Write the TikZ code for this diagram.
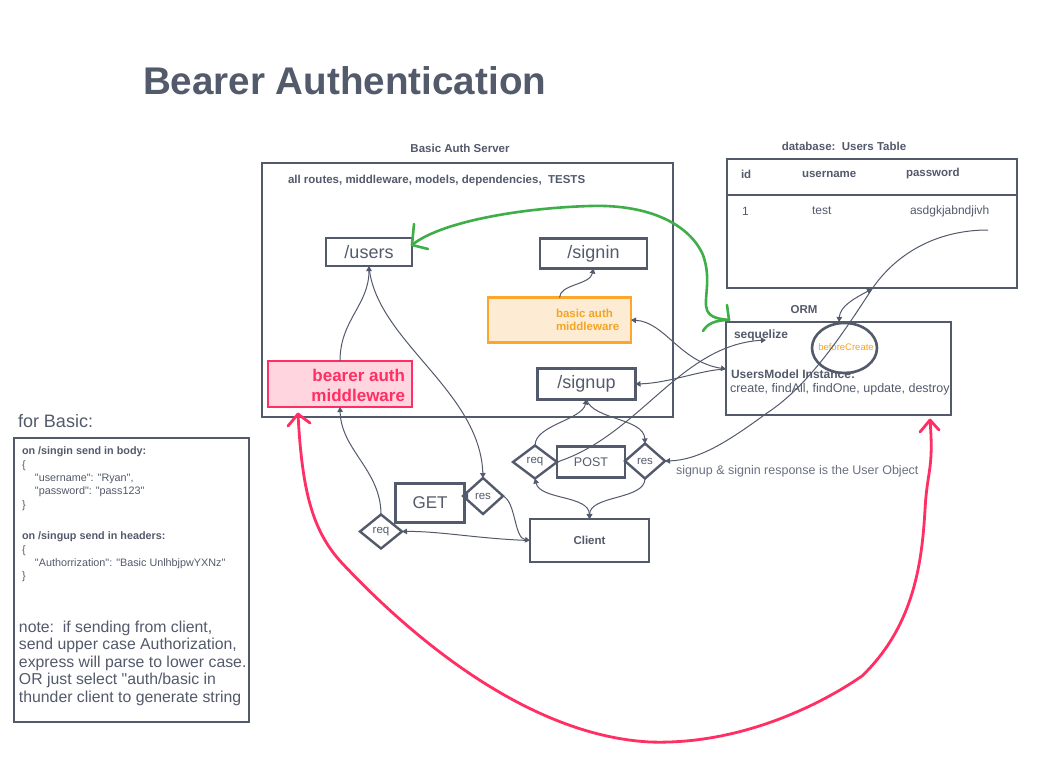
\documentclass[tikz,border=0pt]{standalone}
\usepackage{fontspec}
\setmainfont{Liberation Sans}
\usetikzlibrary{arrows.meta,shapes.geometric}
\definecolor{ink}{HTML}{535A6B}
\definecolor{lightink}{HTML}{6B7182}
\definecolor{orng}{HTML}{FCA62B}
\definecolor{orngfill}{HTML}{FDEBD3}
\definecolor{orngtext}{HTML}{F5A524}
\definecolor{rd}{HTML}{FF2E63}
\definecolor{rdfill}{HTML}{FFD5DF}
\definecolor{grn}{HTML}{3DAE48}
\newcommand\fsz[2]{\fontsize{#1}{#2}\selectfont}
\newcommand\qq{\textquotedbl}
\begin{document}
\begin{tikzpicture}[x=1pt,y=-1pt,
  every node/.style={text=ink, inner sep=0pt, outer sep=0pt},
  frame/.style={draw=ink, line width=2.6pt},
  box/.style={draw=ink, line width=2.6pt, fill=white},
  dia/.style={diamond, draw=ink, line width=2.4pt, fill=white, font=\fsz{11.5}{11.5}},
  conn/.style={draw=ink, line width=1pt, -{Triangle[length=5pt,width=5.5pt]}},
  dconn/.style={draw=ink, line width=1pt, {Triangle[length=5pt,width=5.5pt]}-{Triangle[length=5pt,width=5.5pt]}},
  lab/.style={font=\bfseries\fsz{11.5}{11.5}},
  txt/.style={font=\fsz{12.5}{12.5}},
  handgreen/.style={draw=grn, line width=2.6pt, line cap=round, line join=round},
  handred/.style={draw=rd, line width=2.8pt, line cap=round, line join=round},
]
\fill[white] (0,0) rectangle (1039,777);
\useasboundingbox (0,0) rectangle (1039,777);

% title
\node[anchor=base west, font=\bfseries\fsz{38.6}{38.6}] (title) at (143,94) {Bearer Authentication};

% server
\node[lab] (servertitle) at (460,148) {Basic Auth Server};
\node[frame, minimum width=411, minimum height=254] (server) at (467.5,290) {};
\node[lab, anchor=west] (routes) at (288,181) {all routes, middleware, models, dependencies,\ \ TESTS};
\node[box, minimum width=86, minimum height=28, font=\fsz{18}{18}] (users) at (369,252) {/users};
\node[box, minimum width=107, minimum height=30, font=\fsz{18}{18}] (signin) at (593.5,253.5) {/signin};
\node[draw=orng, fill=orngfill, line width=2.6pt, minimum width=143, minimum height=45] (basicmw) at (559.5,320) {};
\node[anchor=west, text=orngtext, font=\bfseries\fsz{11.5}{13}, align=left] (basictxt) at (556,319.5) {basic auth\\middleware};
\node[box, minimum width=98, minimum height=31, font=\fsz{18}{18}] (signup) at (586.5,384) {/signup};
\node[draw=rd, fill=rdfill, line width=2.6pt, minimum width=144, minimum height=46] (bearer) at (340,384) {};
\node[anchor=east, text=rd, font=\bfseries\fsz{17}{20}, align=right] (bearertxt) at (405,385) {bearer auth\\middleware};

% database
\node[lab] (dbtitle) at (844,146) {database:\ \ Users Table};
\node[frame, minimum width=290, minimum height=129] (db) at (872,223.5) {};
\draw[ink, line width=2.6pt] (727,195) -- (1017,195);
\node[lab, anchor=west] (hid) at (741,174) {id};
\node[lab, anchor=west] (huser) at (802,174) {username};
\node[lab, anchor=west] (hpw) at (906,174) {password};
\node[anchor=west, font=\fsz{12}{12}] (rid) at (742,211) {1};
\node[anchor=west, font=\fsz{12}{12}] (ruser) at (812,211) {test};
\node[anchor=west, font=\fsz{12}{12}] (rpw) at (910,211) {asdgkjabndjivh};

% ORM
\node[lab] (ormtitle) at (804,310) {ORM};
\node[frame, minimum width=225, minimum height=93] (orm) at (838.5,368.5) {};
\node[anchor=west, font=\bfseries\fsz{12}{12}] (seq) at (734,335) {sequelize};
\node[ellipse, draw=ink, line width=2.6pt, minimum width=65, minimum height=50] (bc) at (844.5,348) {};
\node[text=orngtext, font=\fsz{9.5}{9.5}] (bctxt) at (846,347) {beforeCreate};
\node[anchor=west, font=\bfseries\fsz{12}{12}] (umi) at (731,374) {UsersModel Instance:};
\node[txt, anchor=west] (methods) at (730,389) {create, findAll, findOne, update, destroy};

% left notes
\node[anchor=west, font=\fsz{18}{18}] (forbasic) at (18,421) {for Basic:};
\node[frame, minimum width=235, minimum height=284] (leftbox) at (131.5,580) {};
\node[anchor=north west, align=left, font=\fsz{10.8}{13.3}] (blk1) at (22,447) {\textbf{on /singin send in body:}\\\{\\\hspace*{13pt}\qq username\qq: \qq Ryan\qq,\\\hspace*{13pt}\qq password\qq: \qq pass123\qq\\\}};
\node[anchor=north west, align=left, font=\fsz{10.8}{13.3}] (blk2) at (22,532) {\textbf{on /singup send in headers:}\\\{\\\hspace*{13pt}\qq Authorrization\qq: \qq Basic UnlhbjpwYXNz\qq\\\}};
\node[anchor=north west, align=left, font=\fsz{15.8}{17.5}] (note) at (19,621) {note:\ \ if sending from client,\\send upper case Authorization,\\express will parse to lower case.\\OR just select \qq auth/basic in\\thunder client to generate string};

% bottom
\node[box, minimum width=68, minimum height=31, font=\fsz{12.5}{12.5}] (post) at (591,462) {POST};
\node[dia, minimum width=44, minimum height=33] (reqP) at (535,462) {req};
\node[dia, minimum width=40, minimum height=35] (resP) at (645,461) {res};
\node[box, minimum width=69, minimum height=39, font=\fsz{17}{17}] (get) at (430,503) {GET};
\node[dia, minimum width=40, minimum height=36] (resG) at (483,496) {res};
\node[dia, minimum width=42, minimum height=34] (reqG) at (381,531.5) {req};
\node[box, minimum width=119, minimum height=43, font=\bfseries\fsz{11.5}{11.5}] (client) at (589.5,540.5) {Client};
\node[anchor=west, text=lightink, font=\fsz{12.5}{12.5}] (resptext) at (676,471) {signup \& signin response is the User Object};

% coordinates
\coordinate (seqIn) at (766,340);
\coordinate (ormL) at (726,369);
\coordinate (pwStart) at (988,230);
\coordinate (dbB) at (872,289);
\coordinate (ormT) at (839,322);
\coordinate (gUsers) at (412,245);
\coordinate (gOrm) at (729,320);
\coordinate (rBearer) at (298,414);
\coordinate (rOrm) at (930,420);

% connectors
\draw[conn] (bearer.north) .. controls (340,320) and (369,305) .. (users.south);
\draw[conn] (users.south) .. controls (375,340) and (480,390) .. (resG.north);
\draw[conn] (reqG.north) .. controls (381,470) and (341,450) .. (bearer.south);
\draw[conn] (client.west) .. controls (480,539) and (440,531) .. (reqG.east);
\draw[conn] (resG.east) .. controls (516,502) and (514,538) .. (client.west);
\draw[conn] (resG.west) ++(2,0) -- (resG.west);
\draw[conn] (reqP.north) .. controls (535,425) and (582,420) .. (signup.south);
\draw[conn] (signup.south) .. controls (593,420) and (644,418) .. (resP.north);
\draw[dconn] (reqP.south) .. controls (540,500) and (589,495) .. (client.north);
\draw[conn] (resP.south) .. controls (645,500) and (590,495) .. (client.north);
\draw[conn] (reqP.east) .. controls (640,435) and (680,345) .. (seqIn);
\draw[dconn] (basicmw.east) .. controls (665,322) and (680,362) .. (ormL);
\draw[conn] (ormL) .. controls (700,370) and (670,383) .. (signup.east);
\draw[conn] (basicmw.north) .. controls (560,284) and (590,285) .. (signin.south);
\draw[conn] (pwStart) .. controls (935,230) and (895,255) .. (dbB) .. controls (845,330) and (810,385) .. (767,413) .. controls (730,440) and (700,460) .. (resP.east);
\draw[dconn] (dbB) .. controls (855,298) and (840,306) .. (ormT);

% green hand-drawn connector
\draw[handgreen] (gUsers) .. controls (440,222) and (520,208) .. (590,206) .. controls (650,204) and (690,225) .. (703,255) .. controls (712,280) and (703,300) .. (707,310) .. controls (710,318) and (720,319) .. (gOrm);
\draw[handgreen] (gUsers) -- ++(2,-21);
\draw[handgreen] (gUsers) -- ++(16,4);
\draw[handgreen] (gOrm) -- ++(-2,-15);
\draw[handgreen] (gOrm) .. controls (715,320) and (707,324) .. (703,331);

% red hand-drawn connector
\draw[handred] (rBearer) .. controls (302,490) and (312,530) .. (341,562) .. controls (400,625) and (520,735) .. (650,742) .. controls (740,745) and (820,705) .. (862,676) .. controls (915,625) and (922,560) .. (925,510) .. controls (927,470) and (934,470) .. (rOrm);
\draw[handred] (rBearer) -- ++(-10,12);
\draw[handred] (rBearer) -- ++(12,9);
\draw[handred] (rOrm) -- ++(-10,12);
\draw[handred] (rOrm) -- ++(9,10);
\end{tikzpicture}
\end{document}
